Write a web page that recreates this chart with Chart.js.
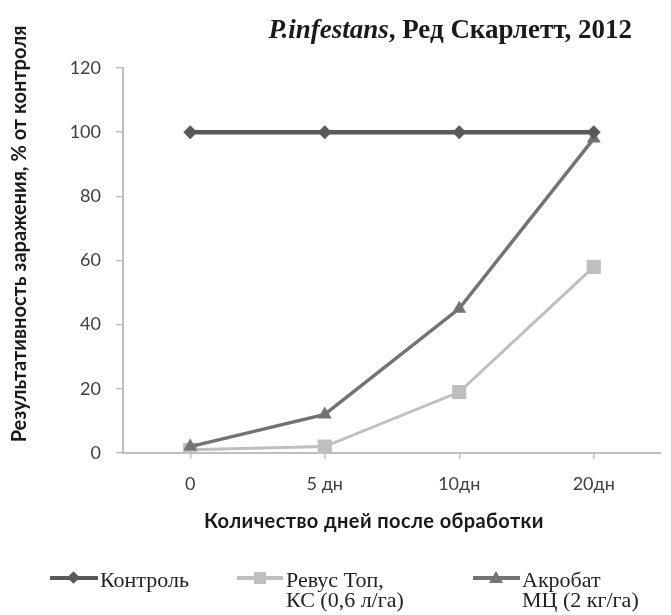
<!DOCTYPE html>
<html>
<head>
<meta charset="utf-8">
<script src="https://cdn.jsdelivr.net/npm/chart.js@4"></script>
<style>
  body { margin: 0; background: #fff; }
  #wrap { position: relative; width: 671px; height: 615px; overflow: hidden; }
  #chart { position: absolute; left: 0; top: 0; }
  .title {
    position: absolute; right: 39px; top: 14px;
    font: bold 27px/30px "Liberation Serif", serif; color: #1a1a1a; white-space: nowrap;
  }
  .ytitle {
    position: absolute; left: -202px; top: 222px; width: 440px; text-align: center;
    transform: rotate(-90deg); font: bold 20px/24px Lato, sans-serif; color: #1a1a1a; white-space: nowrap;
  }
  .xtitle {
    position: absolute; left: 174px; top: 508px; width: 400px; text-align: center;
    font: bold 20px/24px Lato, sans-serif; letter-spacing: 0.4px; color: #1a1a1a; white-space: nowrap;
  }
  .leg { position: absolute; font: 22px/20px "Liberation Serif", serif; color: #222; white-space: nowrap; }
  .sample { position: absolute; height: 4px; }
  .mk { position: absolute; }
</style>
</head>
<body>
<div id="wrap">
  <canvas id="chart" width="671" height="615"></canvas>
  <div class="title"><i>P.infestans</i>, Ред Скарлетт, 2012</div>
  <div class="ytitle">Результативность заражения, % от контроля</div>
  <div class="xtitle">Количество дней после обработки</div>

  <div class="sample" style="left:50px;top:576px;width:48px;background:#595959"></div>
  <div class="mk" style="left:69px;top:573px;width:9px;height:9px;background:#595959;transform:rotate(45deg)"></div>
  <div class="leg" style="left:100px;top:570px">Контроль</div>

  <div class="sample" style="left:237px;top:576px;width:46px;background:#bfbfbf"></div>
  <div class="mk" style="left:254px;top:572px;width:12px;height:12px;background:#bfbfbf"></div>
  <div class="leg" style="left:286px;top:570px">Ревус Топ,<br>КС (0,6 л/га)</div>

  <div class="sample" style="left:473px;top:576px;width:47px;background:#737373"></div>
  <div class="mk" style="left:489px;top:571px;width:0;height:0;border-left:7px solid transparent;border-right:7px solid transparent;border-bottom:12px solid #737373"></div>
  <div class="leg" style="left:522px;top:570px">Акробат<br>МЦ (2 кг/га)</div>
</div>

<script>
const labels = ["0", "5 дн", "10дн", "20дн"];
const control = [100, 100, 100, 100];
const revus = [1, 2, 19, 58];
const acrobat = [2, 12, 45, 98];

const yMin = 0;
const yMax = 120;
const yStep = 20;

const config = {
  type: "line",
  data: {
    labels: labels,
    datasets: [
      {
        label: "Контроль",
        data: control,
        borderColor: "#595959",
        backgroundColor: "#595959",
        borderWidth: 4.5,
        pointStyle: "rectRot",
        pointRadius: 7,
        pointBorderWidth: 0,
      },
      {
        label: "Акробат МЦ (2 кг/га)",
        data: acrobat,
        borderColor: "#737373",
        backgroundColor: "#737373",
        borderWidth: 3.5,
        pointStyle: "triangle",
        pointRadius: 8,
        pointBorderWidth: 0,
      },
      {
        label: "Ревус Топ, КС (0,6 л/га)",
        data: revus,
        borderColor: "#bfbfbf",
        backgroundColor: "#bfbfbf",
        borderWidth: 3,
        pointStyle: "rect",
        pointRadius: 10,
        pointBorderWidth: 0,
      },
    ],
  },
  options: {
    responsive: false,
    animation: false,
    layout: {
      padding: { top: 68, right: 1, bottom: 85, left: 0 },
    },
    plugins: {
      legend: { display: false },
      tooltip: { enabled: false },
    },
    scales: {
      x: {
        offset: true,
        grid: {
          drawOnChartArea: false,
          tickLength: 6,
          color: "#bfbfbf",
          lineWidth: 1.5,
        },
        border: { color: "#bfbfbf", width: 2 },
        ticks: {
          color: "#404040",
          font: { family: "Lato", size: 18 },
          padding: 14,
          maxRotation: 0,
        },
        afterFit: (scale) => {
          scale.height = 77;
        },
      },
      y: {
        min: yMin,
        max: yMax,
        grid: {
          drawOnChartArea: false,
          tickLength: 7,
          color: "#bfbfbf",
          lineWidth: 1.5,
        },
        border: { color: "#bfbfbf", width: 2 },
        ticks: {
          stepSize: yStep,
          color: "#404040",
          font: { family: "Lato", size: 18 },
          padding: 15,
        },
        afterFit: (scale) => {
          scale.width = 123;
        },
      },
    },
  },
};

const ctx = document.getElementById("chart").getContext("2d");
const myChart = new Chart(ctx, config);
</script>
</body>
</html>
